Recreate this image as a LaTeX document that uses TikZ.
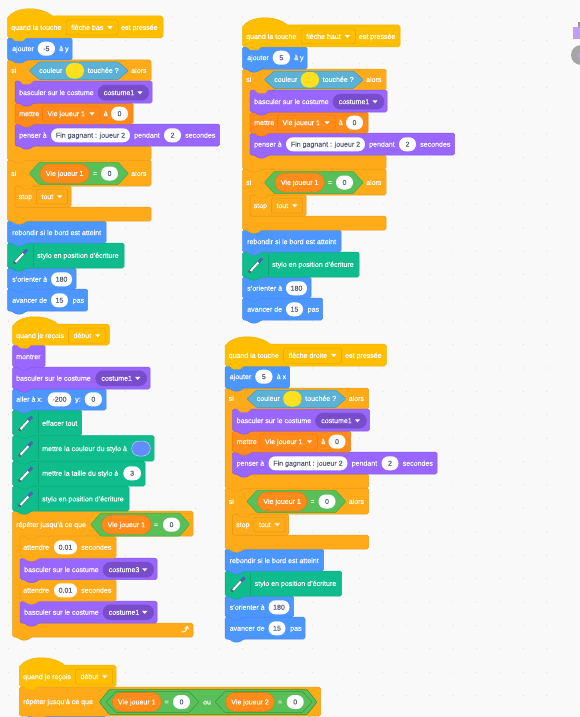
\documentclass[tikz,border=0pt]{standalone}
\usepackage{fontspec}
\setmainfont{Liberation Sans}[RawFeature={embolden=0.25}]
\definecolor{bgc}{HTML}{F9F9F9}
\definecolor{dotc}{HTML}{DDDDDD}
\definecolor{txtg}{HTML}{575E75}
\definecolor{hatf}{HTML}{FFBF00}\definecolor{hatd}{HTML}{F0B200}\definecolor{hatk}{HTML}{E1A500}
\definecolor{motf}{HTML}{4C97FF}\definecolor{motd}{HTML}{4687EB}
\definecolor{loof}{HTML}{9966FF}\definecolor{lood}{HTML}{875AE6}\definecolor{look}{HTML}{774DCB}
\definecolor{varf}{HTML}{FF8C1A}\definecolor{vard}{HTML}{EB780A}
\definecolor{ctlf}{HTML}{FFAB19}\definecolor{ctld}{HTML}{EB9B19}\definecolor{ctlk}{HTML}{E19414}
\definecolor{senf}{HTML}{5CB1D6}\definecolor{send}{HTML}{3C9BC3}
\definecolor{opef}{HTML}{59C059}\definecolor{oped}{HTML}{46AA46}\definecolor{opek}{HTML}{389438}
\definecolor{penf}{HTML}{0FBD8C}\definecolor{pend}{HTML}{0CAA7D}\definecolor{penk}{HTML}{0CA67B}
\definecolor{yel}{HTML}{FFE01E}\definecolor{blu}{HTML}{648CFF}\definecolor{blub}{HTML}{BECDF0}
\definecolor{penb}{HTML}{4C60C8}
\definecolor{tool}{HTML}{BEA0F0}\definecolor{toold}{HTML}{969696}\definecolor{toolc}{HTML}{A5A5A5}
\tikzset{
 x=1pt,y=-1pt,
 hatb/.style={fill=hatf,draw=hatd,line width=.5pt},
 mot/.style={fill=motf,draw=motd,line width=.5pt},
 loo/.style={fill=loof,draw=lood,line width=.5pt},
 loodk/.style={fill=look,draw=look,line width=.5pt},
 vari/.style={fill=varf,draw=vard,line width=.5pt},
 ctl/.style={fill=ctlf,draw=ctld,line width=.5pt},
 ctldk/.style={fill=ctlf,draw=ctlk,line width=.5pt},
 hatdk/.style={fill=hatf,draw=hatk,line width=.5pt},
 sen/.style={fill=senf,draw=send,line width=.5pt},
 ope/.style={fill=opef,draw=oped,line width=.5pt},
 opedk/.style={fill=opef,draw=opek,line width=.5pt},
 pen/.style={fill=penf,draw=pend,line width=.5pt},
 wlabel/.style={text=white,font=\fontsize{7.05}{8}\selectfont,inner sep=0pt,anchor=base west},
 glabel/.style={text=txtg,font=\fontsize{7.05}{8}\selectfont,inner sep=0pt,anchor=base},
}
\newcounter{tn}
\newcommand\lbl[3]{\stepcounter{tn}\node[wlabel] (t\arabic{tn}) at ({#1},{#2+2.4}) {#3};}
\newcommand\clbl[3]{\stepcounter{tn}\node[wlabel,anchor=base] (t\arabic{tn}) at ({#1},{#2+2.4}) {#3};}
\newcommand\pill[4]{\path[fill=white,rounded corners=6.9pt] (#1,{#3-7}) rectangle (#2,{#3+7});
 \stepcounter{tn}\node[glabel] (t\arabic{tn}) at ({(#1+#2)/2},{#3+2.4}) {#4};}
\newcommand\tri[2]{\fill[white] ({#1-2.6},{#2-1.4}) -- ({#1+2.6},{#2-1.4}) -- ({#1},{#2+1.6}) -- cycle;}
\newcommand\ddown[5]{\path[#1,rounded corners=2.2pt] (#2,{#4-7.5}) rectangle (#3,{#4+7.5});
 \lbl{#2+5}{#4}{#5}\tri{#3-8}{#4}}
\newcommand\ddpill[4]{\path[loodk,rounded corners=7.4pt] (#1,{#3-7.5}) rectangle (#2,{#3+7.5});
 \lbl{#1+5.5}{#3}{#4}\tri{#2-9}{#3}}
\newcommand\varp[4]{\path[vari,rounded corners=9.4pt] (#1,{#3-9.5}) rectangle (#2,{#3+9.5});
 \clbl{(#1+#2)/2}{#3}{#4}}
\newcommand\blk[5]{\path[#1,rounded corners=1.6pt] (#2,#4) -- (#3,#4) -- (#3,#5) -- ({#2+18.5},#5) -- ({#2+15},{#5+3}) -- ({#2+8},{#5+3}) -- ({#2+4.5},#5) -- (#2,#5) -- cycle;}
\newcommand\capb[5]{\path[#1,rounded corners=1.6pt] (#2,#4) -- (#3,#4) -- (#3,#5) -- (#2,#5) -- cycle;}
\newcommand\cblk[7]{\path[#1,rounded corners=1.6pt] (#2,#4) -- (#3,#4) -- (#3,#5) -- ({#2+7.5},#5) -- ({#2+7.5},#6) -- (#3,#6) -- (#3,#7) -- ({#2+18.5},#7) -- ({#2+15},{#7+3}) -- ({#2+8},{#7+3}) -- ({#2+4.5},#7) -- (#2,#7) -- cycle;}
\newcommand\tabm[3]{\path[#1,draw=none] ({#2+4.5},{#3-.6}) -- ({#2+8},{#3+3}) -- ({#2+15},{#3+3}) -- ({#2+18.5},{#3-.6}) -- cycle;
 \path[#1,fill=none] ({#2+4.5},#3) -- ({#2+8},{#3+3}) -- ({#2+15},{#3+3}) -- ({#2+18.5},#3);}
\newcommand\hatblk[4]{\path[hatb] (#1,{#3+2}) .. controls ({#1+8},{#3-10}) and ({#1+33},{#3-10}) .. ({#1+45},#3) -- ({#2-2},#3) -- (#2,{#3+2}) -- (#2,{#4-2}) -- ({#2-2},#4) -- ({#1+18.5},#4) -- ({#1+15},{#4+3}) -- ({#1+8},{#4+3}) -- ({#1+4.5},#4) -- ({#1+2},#4) -- (#1,{#4-2}) -- cycle;}
\newcommand\hexb[5]{\path[#1,rounded corners=.8pt] (#2,{(#4+#5)/2}) -- ({#2+10},#4) -- ({#3-10},#4) -- (#3,{(#4+#5)/2}) -- ({#3-10},#5) -- ({#2+10},#5) -- cycle;}
\newcommand\penicon[3]{\draw[penk,line width=.4pt] (#1,{#2-11}) -- (#1,{#2+11});
 \draw[txtg,line width=2.8pt] ({#1-19},{#2+8}) -- ({#1-6},{#2-6});
 \draw[white,line width=2pt] ({#1-17.5},{#2+6.5}) -- ({#1-9.5},{#2-2.2});
 \draw[penb,line width=2.4pt] ({#1-9.5},{#2-2.2}) -- ({#1-6},{#2-6});}

\newcommand\keyscript[8]{%
\begin{scope}[shift={(#1,#2)}]
 \blk{mot}{7.5}{87.5}{289}{311}\lbl{12}{300.3}{avancer de}\pill{51}{68}{300.3}{15}\lbl{72.5}{300.3}{pas}
 \blk{mot}{7.5}{76}{268}{289}\lbl{12}{279.3}{s'orienter à}\pill{51}{72}{279.3}{180}
 \blk{pen}{7.5}{124}{243}{268}\penicon{33}{255.5}{}\lbl{37}{255.5}{stylo en position d'écriture}
 \blk{mot}{7.5}{106}{221}{243}\lbl{12}{232.7}{rebondir si le bord est atteint}
 \cblk{ctl}{7.5}{151}{160}{186}{207}{221}
 \capb{ctldk}{15}{71}{186}{207}{}\tabm{ctl}{15}{186}
 \lbl{18.5}{196.7}{stop}\ddown{ctldk}{36.3}{67.7}{196.7}{tout}
 \lbl{11}{173.5}{si}
 \hexb{ope}{29.3}{128.3}{162.5}{184.5}
 \varp{40}{89.3}{173.5}{Vie joueur 1}\clbl{95}{173.5}{=}\pill{101}{118}{173.5}{0}\lbl{131}{173.5}{alors}
 \cblk{ctl}{7.5}{151}{60}{81}{146}{160}
 \blk{loo}{15}{219.5}{124}{146}\lbl{19}{135.3}{penser à}\pill{51}{130}{135.3}{Fin gagnant : joueur 2}\lbl{134}{135.3}{pendant}\pill{164}{181}{135.3}{2}\lbl{185}{135.3}{secondes}
 \blk{vari}{15}{133}{103}{124}\lbl{19}{113.7}{mettre}\ddown{vari}{42.3}{100}{113.7}{Vie joueur 1}\lbl{103.5}{113.7}{à}\pill{111}{128}{113.7}{0}
 \blk{loo}{15}{152}{81}{103}\lbl{19}{92.7}{basculer sur le costume}\ddpill{98}{149}{92.7}{costume1}
 \tabm{ctl}{15}{81}
 \lbl{11}{70.5}{si}
 \hexb{sen}{29.3}{128.3}{62}{79.5}
 \lbl{39}{70.5}{couleur}
 \path[fill=yel,rounded corners=7.5pt] (65.7,63) rectangle (84,78.5);
 \lbl{87.5}{70.5}{touchée ?}\lbl{131}{70.5}{alors}
 \blk{mot}{7.5}{72}{38}{60}\lbl{12}{48.7}{ajouter}\pill{37.7}{55}{48.7}{#7}\lbl{59}{48.7}{à #8}
 \hatblk{7.5}{#3}{16}{38}\lbl{11}{27.5}{quand la touche}\ddown{hatdk}{66}{#5}{27.5}{#4}\lbl{#6}{27.5}{est pressée}
\end{scope}}

\begin{document}
\begin{tikzpicture}
\useasboundingbox (0,0) rectangle (580,717);
\clip (0,0) rectangle (580,717);
\fill[bgc] (0,0) rectangle (580,717);
\foreach \i in {0,...,24}{\foreach \j in {0,...,30}{\fill[dotc] ({546.7-23.4*\i},{17+23.4*\j}) circle (.6);}}
\fill[tool] (572.7,26.7) rectangle (580,39.3);
\fill[toold] (578,22) rectangle (580,27);
\fill[toolc] (581,55) circle (10);
\fill[tool] (581,55) circle (3);

\keyscript{0}{0}{163}{flèche bas}{118}{121}{-5}{y}
\keyscript{235}{9}{165}{flèche haut}{120.3}{123.7}{5}{y}
\keyscript{217.5}{328}{168.8}{flèche droite}{124.2}{127.5}{5}{x}

\cblk{ctl}{12.7}{193}{511}{536}{623}{637}
\blk{loo}{20}{157}{601}{623}\lbl{24}{612.3}{basculer sur le costume}\ddpill{103}{153.7}{612.3}{costume1}
\blk{ctl}{20}{116}{579.5}{601}\lbl{23}{590.3}{attendre}\pill{54}{77}{590.3}{0.01}\lbl{81}{590.3}{secondes}
\blk{loo}{20}{157}{558}{579.5}\lbl{24}{569.7}{basculer sur le costume}\ddpill{103}{153.7}{569.7}{costume3}
\blk{ctl}{20}{116}{536}{558}\lbl{23}{547.3}{attendre}\pill{54}{77}{547.3}{0.01}\lbl{81}{547.3}{secondes}
\tabm{ctl}{20}{536}
\draw[white,line width=1pt] (181.5,631.8) .. controls (185,632.2) and (186.6,630.5) .. (186.8,628.5);
\fill[white] (184.6,628.6) -- (187.2,625.4) -- (189,628.6) -- cycle;
\lbl{16}{524.7}{répéter jusqu'à ce que}
\hexb{ope}{90.7}{189.7}{513}{536}
\varp{101.7}{151}{524.7}{Vie joueur 1}\clbl{156}{524.7}{=}\pill{163}{180}{524.7}{0}
\blk{pen}{12.7}{129}{486}{511}\penicon{38}{498.5}{}\lbl{42}{499}{stylo en position d'écriture}
\blk{pen}{12.7}{145}{461}{486}\penicon{38}{473.5}{}\lbl{42}{473.3}{mettre la taille du stylo à}\pill{123.3}{141}{473.3}{3}
\blk{pen}{12.7}{154}{435.5}{461}\penicon{38}{448.2}{}\lbl{42}{448.7}{mettre la couleur du stylo à}
\path[fill=blu,draw=blub,line width=.5pt,rounded corners=7.4pt] (131.7,441) rectangle (150.3,456);
\blk{pen}{12.7}{81.7}{410}{435.5}\penicon{38}{422.7}{}\lbl{42}{423.3}{effacer tout}
\blk{mot}{12.7}{106}{389}{410}\lbl{16}{399.3}{aller à x:}\pill{47.7}{71.3}{399.3}{-200}\lbl{75}{399.3}{y:}\pill{84.7}{102}{399.3}{0}
\blk{loo}{12.7}{150}{367}{389}\lbl{16}{378.3}{basculer sur le costume}\ddpill{95.7}{146.7}{378.3}{costume1}
\blk{loo}{12.7}{45}{345}{367}\lbl{16}{356.7}{montrer}
\hatblk{12.7}{109.3}{324}{345}\lbl{16}{335.7}{quand je reçois}\ddown{hatdk}{68.3}{105.7}{335.7}{début}

\path[mot,rounded corners=1.6pt] (27,716) -- (106,716) -- (106,730) -- (27,730) -- cycle;
\path[ctl,rounded corners=1.6pt] (19.3,687) -- (320.5,687) -- (320.5,716) -- (19.3,716) -- cycle;
\tabm{ctl}{27}{716}
\lbl{23}{701.7}{répéter jusqu'à ce que}
\hexb{opedk}{99.3}{317}{689.5}{714.5}
\hexb{opedk}{106}{199}{691.5}{712.5}
\hexb{opedk}{215}{312.3}{691.5}{712.5}
\varp{112.3}{161.3}{702}{Vie joueur 1}\clbl{166.7}{702}{=}\pill{173}{190}{702}{0}
\clbl{207}{702}{ou}
\varp{225.7}{274.3}{702}{Vie joueur 2}\clbl{280}{702}{=}\pill{286.7}{303.7}{702}{0}
\hatblk{19.3}{116}{665}{686.7}\lbl{23}{676.7}{quand je reçois}\ddown{hatdk}{75.3}{112.7}{676.7}{début}
\end{tikzpicture}
\end{document}
